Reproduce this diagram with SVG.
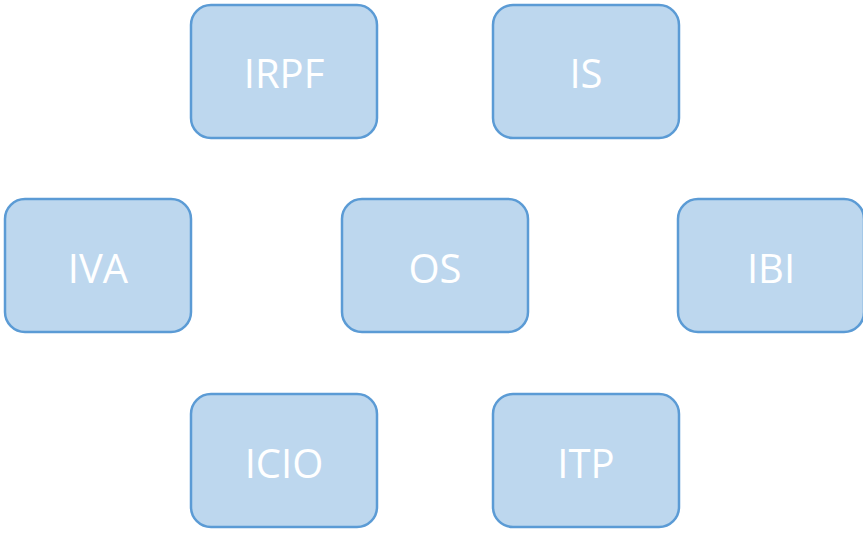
<svg xmlns="http://www.w3.org/2000/svg" width="863" height="534" viewBox="0 0 863 534">
<style>
.box{fill:#BDD7EE;stroke:#5B9BD5;stroke-width:2.5}
.lbl{fill:#FFFFFF;font-family:"Open Sans","Noto Sans",sans-serif;font-size:40px;text-anchor:middle;dominant-baseline:central}
</style>
<rect width="863" height="534" fill="#FFFFFF"/>
<g id="connectors"></g>
<g id="IRPF"><rect class="box" x="191" y="5" width="186" height="133" rx="20"/><text class="lbl" x="284" y="72">IRPF</text></g>
<g id="IS"><rect class="box" x="493" y="5" width="186" height="133" rx="20"/><text class="lbl" x="586" y="72">IS</text></g>
<g id="IVA"><rect class="box" x="5" y="199" width="186" height="133" rx="20"/><text class="lbl" x="98" y="267">IVA</text></g>
<g id="OS"><rect class="box" x="342" y="199" width="186" height="133" rx="20"/><text class="lbl" x="435" y="267">OS</text></g>
<g id="IBI"><rect class="box" x="678" y="199" width="186" height="133" rx="20"/><text class="lbl" x="771" y="267">IBI</text></g>
<g id="ICIO"><rect class="box" x="191" y="394" width="186" height="133" rx="20"/><text class="lbl" x="284" y="462">ICIO</text></g>
<g id="ITP"><rect class="box" x="493" y="394" width="186" height="133" rx="20"/><text class="lbl" x="586" y="462">ITP</text></g>
</svg>
